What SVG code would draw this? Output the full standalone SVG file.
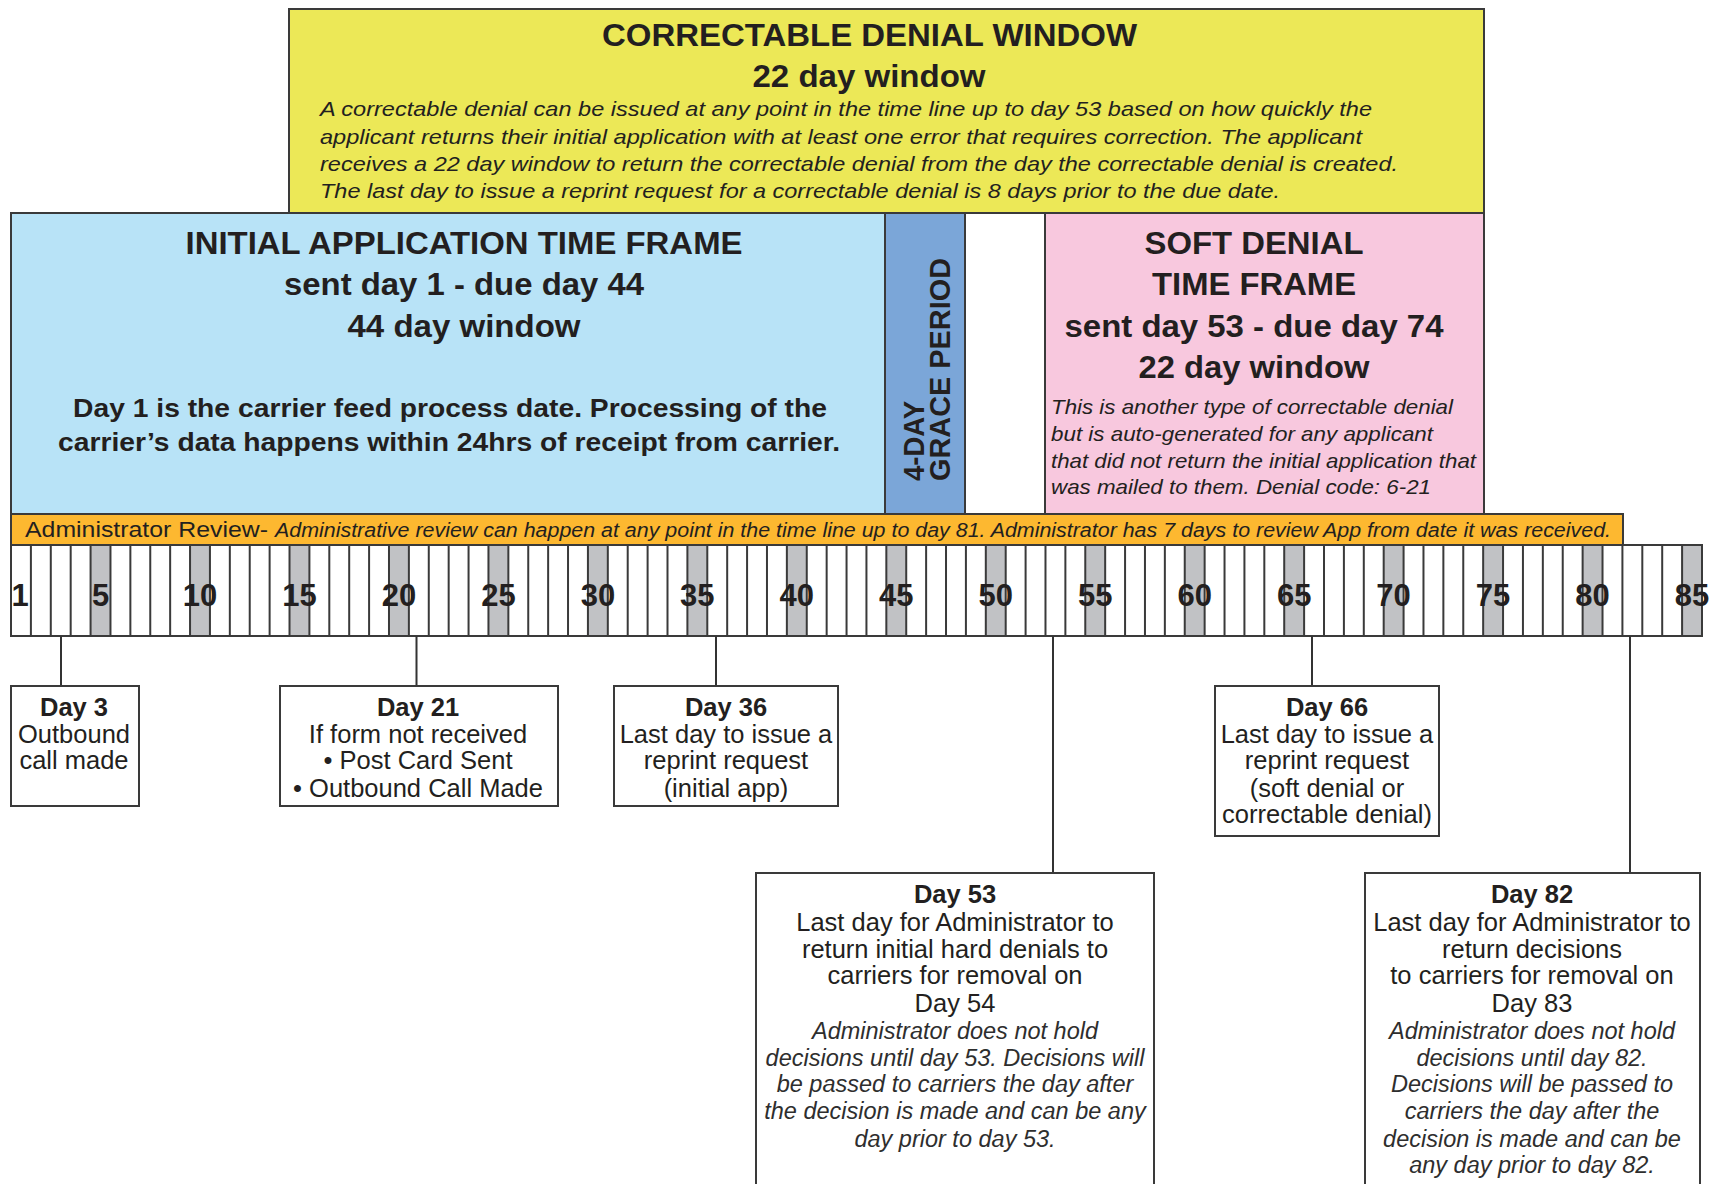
<svg xmlns="http://www.w3.org/2000/svg" width="1722" height="1184" viewBox="0 0 1722 1184">
<style>
.bx{stroke:#3a3a3a;stroke-width:2}
text{font-family:"Liberation Sans",Arial,Helvetica,sans-serif;fill:#231f20}
.h{font-weight:bold;font-size:31px;text-anchor:middle}
.it{font-style:italic;font-size:21px}
.bt{font-size:25.5px;text-anchor:middle}
.bb{font-weight:bold}
.bi{font-style:italic;font-size:23.5px;fill:#2e2e2e}
.num{font-weight:bold;font-size:31px;text-anchor:middle}
.con{stroke:#333;stroke-width:2;fill:none}
</style>
<rect width="1722" height="1184" fill="#ffffff"/>

<g id="correctable-denial-window">
<rect class="bx" x="289" y="9" width="1195" height="204" fill="#ece857"/>
<text class="h" x="869.5" y="46" textLength="535" lengthAdjust="spacingAndGlyphs">CORRECTABLE DENIAL WINDOW</text>
<text class="h" x="869" y="87" textLength="233" lengthAdjust="spacingAndGlyphs">22 day window</text>
<text class="it" x="320" y="116" textLength="1052" lengthAdjust="spacingAndGlyphs">A correctable denial can be issued at any point in the time line up to day 53 based on how quickly the</text>
<text class="it" x="320" y="144" textLength="1042" lengthAdjust="spacingAndGlyphs">applicant returns their initial application with at least one error that requires correction. The applicant</text>
<text class="it" x="320" y="171" textLength="1078" lengthAdjust="spacingAndGlyphs">receives a 22 day window to return the correctable denial from the day the correctable denial is created.</text>
<text class="it" x="320" y="198" textLength="960" lengthAdjust="spacingAndGlyphs">The last day to issue a reprint request for a correctable denial is 8 days prior to the due date.</text>
</g>

<g id="initial-application">
<rect class="bx" x="11" y="213" width="874" height="301" fill="#b8e3f7"/>
<text class="h" x="464" y="254" textLength="557" lengthAdjust="spacingAndGlyphs">INITIAL APPLICATION TIME FRAME</text>
<text class="h" x="464" y="295" textLength="360" lengthAdjust="spacingAndGlyphs">sent day 1 - due day 44</text>
<text class="h" x="464" y="337" textLength="233" lengthAdjust="spacingAndGlyphs">44 day window</text>
<text class="h" x="450" y="417" style="font-size:26.5px" textLength="754" lengthAdjust="spacingAndGlyphs">Day 1 is the carrier feed process date. Processing of the</text>
<text class="h" x="449" y="451" style="font-size:26.5px" textLength="782" lengthAdjust="spacingAndGlyphs">carrier’s data happens within 24hrs of receipt from carrier.</text>
</g>

<g id="grace-period">
<rect class="bx" x="885" y="213" width="80" height="301" fill="#7ba6d8"/>
<text class="bb" transform="translate(924,481) rotate(-90)" style="font-size:29px" textLength="80" lengthAdjust="spacingAndGlyphs">4-DAY</text>
<text class="bb" transform="translate(950,481) rotate(-90)" style="font-size:29px" textLength="223" lengthAdjust="spacingAndGlyphs">GRACE PERIOD</text>
</g>

<g id="gap">
<rect class="bx" x="965" y="213" width="80" height="301" fill="#ffffff"/>
</g>

<g id="soft-denial">
<rect class="bx" x="1045" y="213" width="439" height="301" fill="#f8c8de"/>
<text class="h" x="1254" y="254" textLength="219" lengthAdjust="spacingAndGlyphs">SOFT DENIAL</text>
<text class="h" x="1254" y="295" textLength="204" lengthAdjust="spacingAndGlyphs">TIME FRAME</text>
<text class="h" x="1254" y="337" textLength="379" lengthAdjust="spacingAndGlyphs">sent day 53 - due day 74</text>
<text class="h" x="1254" y="378" textLength="231" lengthAdjust="spacingAndGlyphs">22 day window</text>
<text class="it" x="1051" y="414" textLength="402" lengthAdjust="spacingAndGlyphs">This is another type of correctable denial</text>
<text class="it" x="1051" y="441" textLength="382" lengthAdjust="spacingAndGlyphs">but is auto-generated for any applicant</text>
<text class="it" x="1051" y="468" textLength="425" lengthAdjust="spacingAndGlyphs">that did not return the initial application that</text>
<text class="it" x="1051" y="494" textLength="380" lengthAdjust="spacingAndGlyphs">was mailed to them. Denial code: 6-21</text>
</g>

<g id="admin-review">
<rect class="bx" x="11" y="514" width="1612" height="31" fill="#fdb830"/>
<text x="25" y="537" style="font-size:22px" textLength="243" lengthAdjust="spacingAndGlyphs">Administrator Review-</text>
<text class="it" x="275" y="537" style="font-size:20px" textLength="1336" lengthAdjust="spacingAndGlyphs">Administrative review can happen at any point in the time line up to day 81. Administrator has 7 days to review App from date it was received.</text>
</g>

<g id="timeline">
<rect x="11" y="545" width="1691" height="91" fill="#ffffff"/>
<path fill="#c1c2c5" d="M90.58 545h19.894v91h-19.894z m99.47 0h19.894v91h-19.894z m99.47 0h19.894v91h-19.894z m99.47 0h19.894v91h-19.894z m99.47 0h19.894v91h-19.894z m99.47 0h19.894v91h-19.894z m99.47 0h19.894v91h-19.894z m99.47 0h19.894v91h-19.894z m99.47 0h19.894v91h-19.894z m99.47 0h19.894v91h-19.894z m99.47 0h19.894v91h-19.894z m99.47 0h19.894v91h-19.894z m99.47 0h19.894v91h-19.894z m99.47 0h19.894v91h-19.894z m99.47 0h19.894v91h-19.894z m99.47 0h19.894v91h-19.894z m99.47 0h19.894v91h-19.894z"/>
<path stroke="#3a3a3a" stroke-width="2" fill="none" d="M11 545v91
m19.894 -91v91 m19.894 -91v91 m19.894 -91v91 m19.894 -91v91 m19.894 -91v91 m19.894 -91v91 m19.894 -91v91 m19.894 -91v91 m19.894 -91v91 m19.894 -91v91
m19.894 -91v91 m19.894 -91v91 m19.894 -91v91 m19.894 -91v91 m19.894 -91v91 m19.894 -91v91 m19.894 -91v91 m19.894 -91v91 m19.894 -91v91 m19.894 -91v91
m19.894 -91v91 m19.894 -91v91 m19.894 -91v91 m19.894 -91v91 m19.894 -91v91 m19.894 -91v91 m19.894 -91v91 m19.894 -91v91 m19.894 -91v91 m19.894 -91v91
m19.894 -91v91 m19.894 -91v91 m19.894 -91v91 m19.894 -91v91 m19.894 -91v91 m19.894 -91v91 m19.894 -91v91 m19.894 -91v91 m19.894 -91v91 m19.894 -91v91
m19.894 -91v91 m19.894 -91v91 m19.894 -91v91 m19.894 -91v91 m19.894 -91v91 m19.894 -91v91 m19.894 -91v91 m19.894 -91v91 m19.894 -91v91 m19.894 -91v91
m19.894 -91v91 m19.894 -91v91 m19.894 -91v91 m19.894 -91v91 m19.894 -91v91 m19.894 -91v91 m19.894 -91v91 m19.894 -91v91 m19.894 -91v91 m19.894 -91v91
m19.894 -91v91 m19.894 -91v91 m19.894 -91v91 m19.894 -91v91 m19.894 -91v91 m19.894 -91v91 m19.894 -91v91 m19.894 -91v91 m19.894 -91v91 m19.894 -91v91
m19.894 -91v91 m19.894 -91v91 m19.894 -91v91 m19.894 -91v91 m19.894 -91v91 m19.894 -91v91 m19.894 -91v91 m19.894 -91v91 m19.894 -91v91 m19.894 -91v91
m19.894 -91v91 m19.894 -91v91 m19.894 -91v91 m19.894 -91v91"/>
<rect x="11" y="545" width="1691" height="91" fill="none" stroke="#3a3a3a" stroke-width="2"/>
<text class="num" x="20" y="606">1</text>
<text class="num" x="100.5" y="606">5</text>
<text class="num" x="200" y="606">10</text>
<text class="num" x="299.5" y="606">15</text>
<text class="num" x="399" y="606">20</text>
<text class="num" x="498.4" y="606">25</text>
<text class="num" x="597.9" y="606">30</text>
<text class="num" x="697.3" y="606">35</text>
<text class="num" x="796.8" y="606">40</text>
<text class="num" x="896.3" y="606">45</text>
<text class="num" x="995.8" y="606">50</text>
<text class="num" x="1095.2" y="606">55</text>
<text class="num" x="1194.7" y="606">60</text>
<text class="num" x="1294.2" y="606">65</text>
<text class="num" x="1393.6" y="606">70</text>
<text class="num" x="1493.1" y="606">75</text>
<text class="num" x="1592.6" y="606">80</text>
<text class="num" x="1692" y="606">85</text>
</g>

<g id="connectors">
<path class="con" d="M61 636V686 M416.5 636V686 M716 636V686 M1053 636V873 M1312 636V686 M1630 636V873"/>
</g>

<g id="day3">
<rect class="bx" x="11" y="686" width="128" height="120" fill="#ffffff"/>
<text class="bt bb" x="74" y="716">Day 3</text>
<text class="bt" x="74" y="743">Outbound</text>
<text class="bt" x="74" y="769">call made</text>
</g>

<g id="day21">
<rect class="bx" x="280" y="686" width="278" height="120" fill="#ffffff"/>
<text class="bt bb" x="418" y="716">Day 21</text>
<text class="bt" x="418" y="743">If form not received</text>
<text class="bt" x="418" y="769">• Post Card Sent</text>
<text class="bt" x="418" y="797">• Outbound Call Made</text>
</g>

<g id="day36">
<rect class="bx" x="614" y="686" width="224" height="120" fill="#ffffff"/>
<text class="bt bb" x="726" y="716">Day 36</text>
<text class="bt" x="726" y="743">Last day to issue a</text>
<text class="bt" x="726" y="769">reprint request</text>
<text class="bt" x="726" y="797">(initial app)</text>
</g>

<g id="day66">
<rect class="bx" x="1215" y="686" width="224" height="150" fill="#ffffff"/>
<text class="bt bb" x="1327" y="716">Day 66</text>
<text class="bt" x="1327" y="743">Last day to issue a</text>
<text class="bt" x="1327" y="769">reprint request</text>
<text class="bt" x="1327" y="797">(soft denial or</text>
<text class="bt" x="1327" y="823">correctable denial)</text>
</g>

<g id="day53">
<rect class="bx" x="756" y="873" width="398" height="330" fill="#ffffff"/>
<text class="bt bb" x="955" y="903">Day 53</text>
<text class="bt" x="955" y="931">Last day for Administrator to</text>
<text class="bt" x="955" y="958">return initial hard denials to</text>
<text class="bt" x="955" y="984">carriers for removal on</text>
<text class="bt" x="955" y="1012">Day 54</text>
<text class="bt bi" x="955" y="1039">Administrator does not hold</text>
<text class="bt bi" x="955" y="1066">decisions until day 53. Decisions will</text>
<text class="bt bi" x="955" y="1092">be passed to carriers the day after</text>
<text class="bt bi" x="955" y="1119">the decision is made and can be any</text>
<text class="bt bi" x="955" y="1147">day prior to day 53.</text>
</g>

<g id="day82">
<rect class="bx" x="1365" y="873" width="335" height="330" fill="#ffffff"/>
<text class="bt bb" x="1532" y="903">Day 82</text>
<text class="bt" x="1532" y="931">Last day for Administrator to</text>
<text class="bt" x="1532" y="958">return decisions</text>
<text class="bt" x="1532" y="984">to carriers for removal on</text>
<text class="bt" x="1532" y="1012">Day 83</text>
<text class="bt bi" x="1532" y="1039">Administrator does not hold</text>
<text class="bt bi" x="1532" y="1066">decisions until day 82.</text>
<text class="bt bi" x="1532" y="1092">Decisions will be passed to</text>
<text class="bt bi" x="1532" y="1119">carriers the day after the</text>
<text class="bt bi" x="1532" y="1147">decision is made and can be</text>
<text class="bt bi" x="1532" y="1173">any day prior to day 82.</text>
</g>
</svg>
